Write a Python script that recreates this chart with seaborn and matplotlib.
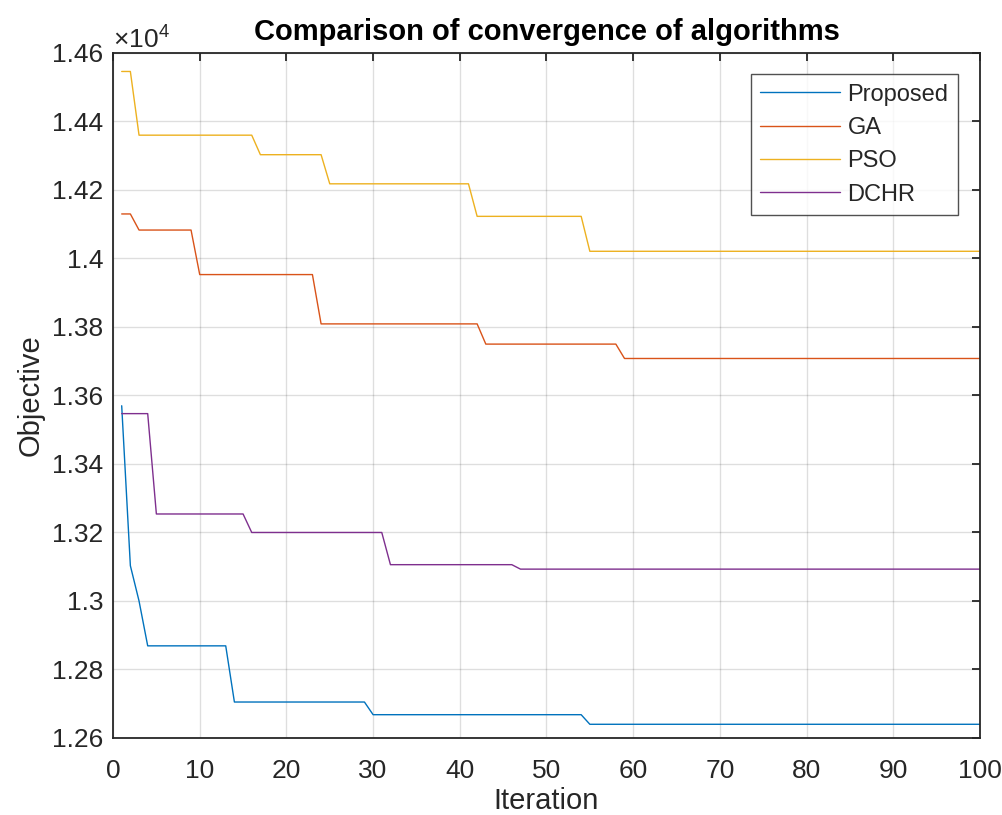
import numpy as np
import pandas as pd
import matplotlib
matplotlib.use("Agg")
import matplotlib.pyplot as plt
import seaborn as sns
from matplotlib.ticker import FuncFormatter, MultipleLocator

# Vertices (iteration, objective) of each convergence curve
prop_iter = [1, 2, 3, 4, 13, 14, 29, 30, 54, 55, 100]
prop_val = [13570, 13103, 13000, 12869, 12869, 12705, 12705, 12668, 12668, 12640, 12640]

ga_iter = [1, 2, 3, 9, 10, 23, 24, 42, 43, 58, 59, 100]
ga_val = [14130, 14130, 14083, 14083, 13953, 13953, 13809, 13809, 13750, 13750, 13708, 13708]

pso_iter = [1, 2, 3, 16, 17, 24, 25, 41, 42, 54, 55, 100]
pso_val = [14546, 14546, 14360, 14360, 14303, 14303, 14218, 14218, 14123, 14123, 14021, 14021]

dchr_iter = [1, 4, 5, 15, 16, 31, 32, 46, 47, 100]
dchr_val = [13547, 13547, 13254, 13254, 13200, 13200, 13106, 13106, 13093, 13093]

series_names = ["Proposed", "GA", "PSO", "DCHR"]
colors = ["#0072BD", "#D95319", "#EDB120", "#7E2F8E"]

frames = []
for name, xs, ys in zip(series_names,
                        [prop_iter, ga_iter, pso_iter, dchr_iter],
                        [prop_val, ga_val, pso_val, dchr_val]):
    frames.append(pd.DataFrame({"Iteration": xs, "Objective": ys, "Algorithm": name}))
df = pd.concat(frames, ignore_index=True)

sns.set_theme(style="white")
plt.rcParams["font.family"] = ["Liberation Sans", "DejaVu Sans"]
plt.rcParams["mathtext.fontset"] = "custom"
plt.rcParams["mathtext.rm"] = "Liberation Sans"

fig = plt.figure(figsize=(10.02, 8.15), dpi=100)
ax = fig.add_axes([0.1128, 0.0945, 0.978 - 0.1128, 0.935 - 0.0945])

sns.lineplot(data=df, x="Iteration", y="Objective", hue="Algorithm",
             hue_order=series_names, palette=colors, estimator=None,
             sort=False, linewidth=1.0, ax=ax)

ax.set_xlim(0, 100)
ax.set_ylim(12600, 14600)
ax.xaxis.set_major_locator(MultipleLocator(10))
ax.yaxis.set_major_locator(MultipleLocator(200))
ax.yaxis.set_major_formatter(FuncFormatter(lambda v, p: f"{v/1e4:g}"))

ax.grid(True, color="#000000", alpha=0.13, linewidth=1.0)
ax.tick_params(axis="both", which="major", direction="in", length=6, width=1.3,
               labelsize=19, colors="#262626", top=True, right=True,
               labeltop=False, labelright=False)
ax.tick_params(axis="x", pad=15)
ax.tick_params(axis="y", pad=7)
for s in ax.spines.values():
    s.set_color("#262626")
    s.set_linewidth(1.3)

ax.set_xlabel("Iteration", fontsize=21, color="#262626", labelpad=3)
ax.set_ylabel("Objective", fontsize=21, color="#262626", labelpad=5)
ax.set_title("Comparison of convergence of algorithms", fontsize=21,
             fontweight="bold", color="black", pad=9)

ax.text(0.0, 1.0, r"$\times10^{4}$", transform=ax.transAxes, fontsize=19,
        color="#262626", ha="left", va="bottom")

leg = ax.legend(loc="upper right", bbox_to_anchor=(0.9746, 0.969), fontsize=17,
                frameon=True, fancybox=False, edgecolor="#262626",
                handlelength=3.4, handletextpad=0.3, borderpad=0.4,
                labelspacing=0.48, borderaxespad=0.0)
leg.get_frame().set_linewidth(1.0)
leg.set_title(None)

fig.savefig("out.png", dpi=100)
